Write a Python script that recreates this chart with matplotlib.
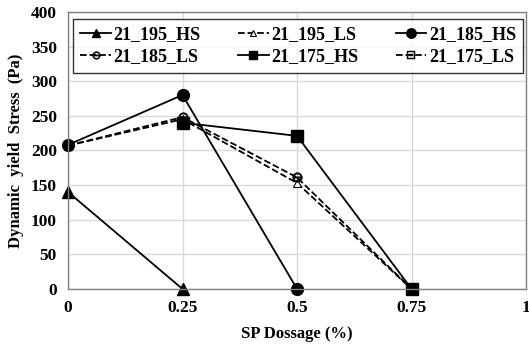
import numpy as np
import matplotlib.pyplot as plt

# SP dosage (%)
dosage = [0, 0.25, 0.5, 0.75]

# Dynamic yield stress (Pa), nan = no point
s195_hs = [140, 0, np.nan, np.nan]
s195_ls = [207, 245, 153, 0]
s185_hs = [208, 280, 0, np.nan]
s185_ls = [207, 248, 161, 0]
s175_hs = [np.nan, 240, 221, 0]
s175_ls = [np.nan, np.nan, np.nan, 0]

plt.rcParams['font.family'] = 'Liberation Serif'
plt.rcParams['font.weight'] = 'bold'

fig = plt.figure(figsize=(5.29, 3.49), dpi=100)
ax = fig.add_axes([0.1285, 0.172, 0.866, 0.794])

k = 'black'
ax.plot(dosage, s195_hs, '-', color=k, lw=1.3, marker='^', ms=8, label='21_195_HS', clip_on=False)
ax.plot(dosage, s195_ls, '--', color=k, lw=1.3, marker='^', ms=6, mfc='white', mew=0.8, label='21_195_LS', clip_on=False)
ax.plot(dosage, s185_hs, '-', color=k, lw=1.3, marker='o', ms=8.5, label='21_185_HS', clip_on=False)
ax.plot(dosage, s185_ls, '--', color=k, lw=1.3, marker='$\\ominus$', ms=7, mew=0.3, label='21_185_LS', clip_on=False)
ax.plot(dosage, s175_hs, '-', color=k, lw=1.3, marker='s', ms=8, label='21_175_HS', clip_on=False)
ax.plot(dosage, s175_ls, '--', color=k, lw=1.3, marker='$\\boxminus$', ms=7, mew=0.3, label='21_175_LS', clip_on=False)

ax.set_xlim(0, 1)
ax.set_ylim(0, 400)
ax.set_xticks([0, 0.25, 0.5, 0.75, 1])
ax.set_xticklabels(['0', '0.25', '0.5', '0.75', '1'])
ax.set_yticks(range(0, 401, 50))
ax.tick_params(length=0, labelsize=12.5, pad=8)
ax.grid(color='#d9d9d9', lw=1)
ax.set_axisbelow(True)
for sp in ax.spines.values():
    sp.set_color('#808080')
    sp.set_linewidth(1)

ax.set_xlabel('SP Dossage (%)', fontsize=12, fontweight='bold', labelpad=7)
ax.set_ylabel('Dynamic  yield  Stress  (Pa)', fontsize=12, fontweight='bold', labelpad=5)

# legend filled row by row
h, l = ax.get_legend_handles_labels()
order = [0, 3, 1, 4, 2, 5]
leg = ax.legend([h[i] for i in order], [l[i] for i in order], loc='upper left',
                bbox_to_anchor=(0.011, 0.776, 0.983, 0.199), mode='expand', ncol=3,
                fontsize=13, frameon=True, fancybox=False, edgecolor='black',
                handlelength=1.7, handletextpad=0.15, markerscale=0.8,
                borderaxespad=0, labelspacing=0.3, borderpad=0.4)
leg.get_frame().set_linewidth(1)

fig.savefig('out.png', dpi=100)
